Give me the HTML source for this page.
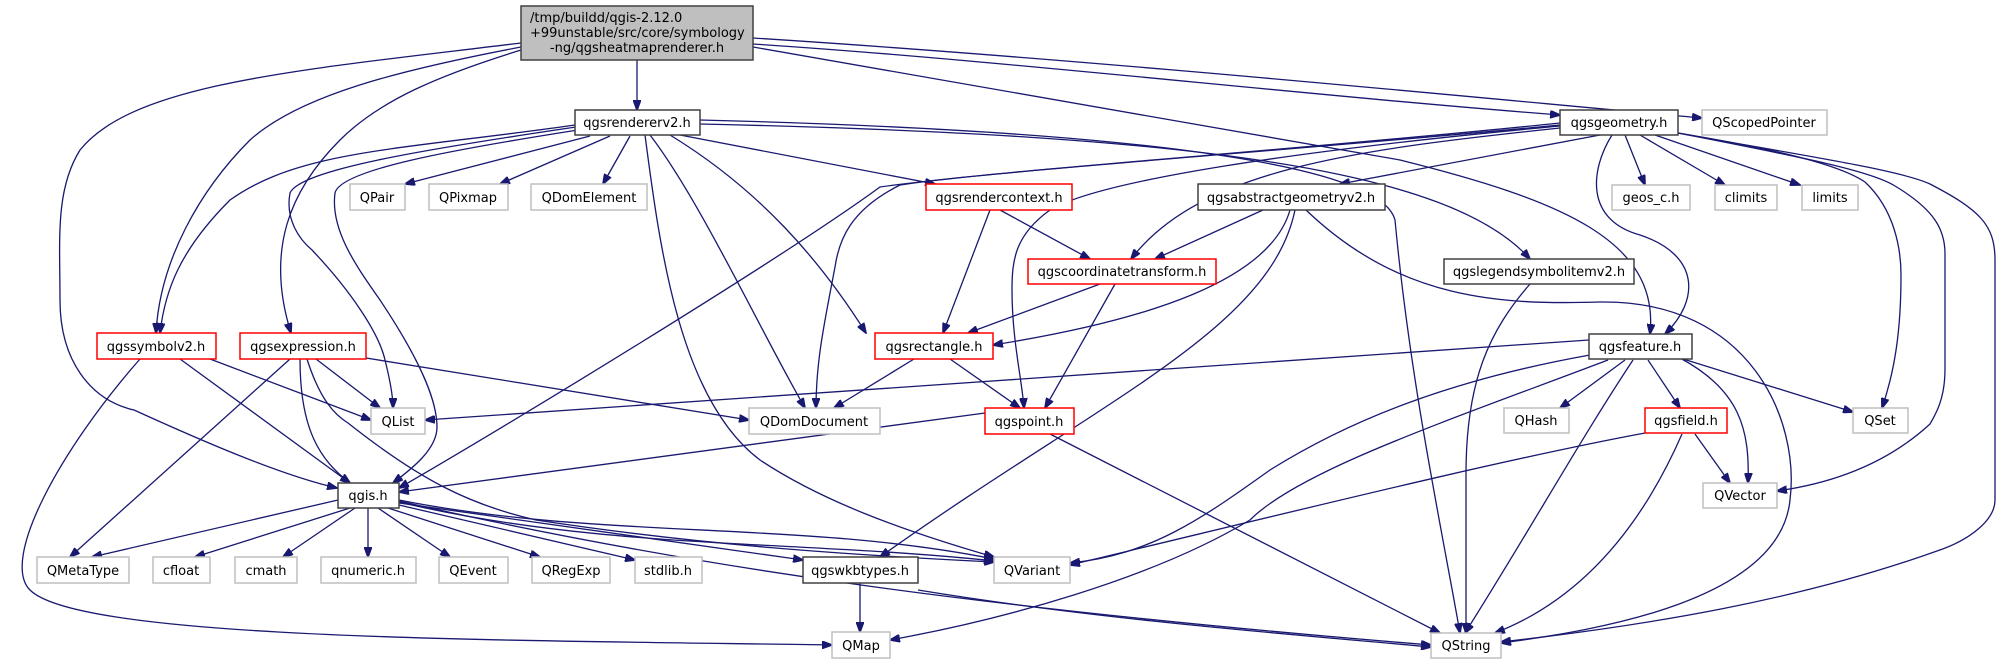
<!DOCTYPE html>
<html><head><meta charset="utf-8"><style>
html,body{margin:0;padding:0;background:#fff;}
svg{display:block;}
text{font-family:"DejaVu Sans","Liberation Sans",sans-serif;font-size:13px;fill:#000;}
.e{fill:none;stroke:#191970;stroke-width:1.3;marker-end:url(#a);}
.n{fill:#fff;stroke:#404040;stroke-width:1.5;}
.g{fill:#fff;stroke:#bfbfbf;stroke-width:1.5;}
.r{fill:#fff;stroke:#ff0000;stroke-width:1.5;}
</style></head><body>
<svg width="2002" height="664" viewBox="0 0 2002 664" xmlns="http://www.w3.org/2000/svg">
<defs><marker id="a" markerWidth="11" markerHeight="8" refX="10" refY="4" orient="auto" markerUnits="userSpaceOnUse"><path d="M0,0 L11,4 L0,8 z" fill="#191970" stroke="#191970"/></marker></defs>
<g>
<path class="e" d="M637,60 L637,110"/>
<path class="e" d="M753,44 C1000,60 1300,95 1560,115"/>
<path class="e" d="M753,38 C1100,60 1500,100 1702,118"/>
<path class="e" d="M753,47 L1400,160 C1560,200 1660,240 1650,334"/>
<path class="e" d="M521,47 C400,70 300,95 250,140 C200,190 160,260 156,333"/>
<path class="e" d="M575,125 C400,150 300,150 230,200 C180,250 165,290 160,333"/>
<path class="e" d="M521,50 C440,75 380,100 340,140 C290,190 265,250 291,333"/>
<path class="e" d="M521,43 C300,70 134,83 80,150 C55,190 60,240 60,300 C60,360 90,400 134,410 C200,440 280,475 337,488"/>
<path class="e" d="M590,136 L405,184"/>
<path class="e" d="M610,136 L500,184"/>
<path class="e" d="M630,136 L603,184"/>
<path class="e" d="M680,135 L935,184"/>
<path class="e" d="M670,135 C760,190 820,260 866,333"/>
<path class="e" d="M650,135 C700,200 760,330 805,408"/>
<path class="e" d="M645,135 C660,250 680,400 760,460 C820,500 900,530 994,557"/>
<path class="e" d="M578,130 C450,150 340,170 335,193 C330,230 357,267 380,300 C420,360 437,400 437,427 C437,450 410,470 393,483"/>
<path class="e" d="M576,127 C420,150 300,170 290,193 C285,220 300,240 312,250 C350,290 379,333 385,360 C390,380 393,395 393,408"/>
<path class="e" d="M700,120 C1100,130 1380,160 1395,220 C1410,380 1440,520 1460,633"/>
<path class="e" d="M700,124 C1200,135 1450,170 1530,259"/>
<path class="e" d="M1560,125 C1300,150 1000,170 880,187 C780,260 500,430 399,488"/>
<path class="e" d="M1560,123 C1300,150 1000,170 900,185 C850,210 839,240 835,267 C825,320 816,360 816,408"/>
<path class="e" d="M1560,126 C1300,150 1100,180 1050,210 C1015,235 1012,260 1012,290 C1012,340 1022,380 1024,408"/>
<path class="e" d="M1560,128 C1350,150 1200,170 1131,259"/>
<path class="e" d="M1600,135 L1340,184"/>
<path class="e" d="M1612,135 C1590,170 1585,220 1640,235 C1700,255 1700,300 1665,334"/>
<path class="e" d="M1625,135 L1645,185"/>
<path class="e" d="M1640,135 L1725,185"/>
<path class="e" d="M1655,135 L1800,185"/>
<path class="e" d="M1678,133 C1780,150 1840,165 1865,182 C1895,210 1901,250 1901,275 C1901,330 1895,370 1882,408"/>
<path class="e" d="M1678,133 C1790,155 1870,170 1895,186 C1935,210 1945,230 1945,254 L1945,369 C1945,400 1935,415 1930,424 C1880,470 1820,485 1777,491"/>
<path class="e" d="M1678,133 C1800,155 1900,170 1930,184 C1980,210 1995,225 1995,260 L1995,500 C1995,520 1970,540 1937,551 C1800,600 1650,625 1501,642"/>
<path class="e" d="M1263,210 L1155,259"/>
<path class="e" d="M1290,210 C1270,280 1150,320 993,345"/>
<path class="e" d="M1295,210 C1270,330 1100,400 880,557"/>
<path class="e" d="M1306,210 C1400,300 1500,305 1600,302 C1750,300 1800,420 1790,500 C1780,600 1600,630 1501,643"/>
<path class="e" d="M1000,210 L1090,259"/>
<path class="e" d="M990,210 L943,333"/>
<path class="e" d="M1100,284 L968,333"/>
<path class="e" d="M1115,284 L1045,408"/>
<path class="e" d="M1530,284 C1490,330 1465,380 1466,480 L1466,633"/>
<path class="e" d="M914,359 L834,408"/>
<path class="e" d="M950,359 L1020,408"/>
<path class="e" d="M210,359 L371,420"/>
<path class="e" d="M180,359 L350,483"/>
<path class="e" d="M140,359 C60,450 0,560 30,590 C80,640 500,640 832,645"/>
<path class="e" d="M316,359 L380,408"/>
<path class="e" d="M300,359 C300,430 320,460 350,483"/>
<path class="e" d="M307,359 C320,400 335,415 348,423 C420,480 470,505 536,520 C700,545 850,555 994,562"/>
<path class="e" d="M366,358 L749,420"/>
<path class="e" d="M290,359 L70,557"/>
<path class="e" d="M338,500 L92,557"/>
<path class="e" d="M350,508 L195,557"/>
<path class="e" d="M355,508 L283,557"/>
<path class="e" d="M368,508 L368,557"/>
<path class="e" d="M378,508 L450,557"/>
<path class="e" d="M388,508 L540,557"/>
<path class="e" d="M399,505 L635,560"/>
<path class="e" d="M399,503 L803,560"/>
<path class="e" d="M399,500 C600,540 800,520 994,559"/>
<path class="e" d="M399,502 C600,550 800,540 994,561"/>
<path class="e" d="M399,501 C700,570 1000,610 1431,645"/>
<path class="e" d="M985,413 L399,492"/>
<path class="e" d="M1050,434 L1440,633"/>
<path class="e" d="M1589,340 L425,420"/>
<path class="e" d="M1590,355 C1450,380 1350,420 1270,470 C1200,520 1150,555 1070,563"/>
<path class="e" d="M1608,360 C1450,420 1300,470 1250,520 C1150,580 1000,620 890,640"/>
<path class="e" d="M1625,360 L1560,408"/>
<path class="e" d="M1648,360 L1680,408"/>
<path class="e" d="M1680,358 C1740,390 1750,430 1748,483"/>
<path class="e" d="M1680,358 L1853,412"/>
<path class="e" d="M1633,360 C1580,440 1530,530 1465,633"/>
<path class="e" d="M1645,433 C1500,460 1300,510 1070,565"/>
<path class="e" d="M1695,434 L1730,483"/>
<path class="e" d="M1682,434 C1640,530 1580,600 1495,633"/>
<path class="e" d="M860,583 L860,632"/>
<path class="e" d="M918,590 C1100,620 1300,635 1431,647"/>
</g>
<g>
<rect x="521" y="6" width="232" height="54" fill="#bfbfbf" stroke="#404040" stroke-width="1.5"/>
<text x="530" y="22">/tmp/buildd/qgis-2.12.0</text>
<text x="530" y="37">+99unstable/src/core/symbology</text>
<text x="637" y="52" text-anchor="middle">-ng/qgsheatmaprenderer.h</text>
</g>
<g text-anchor="middle">
<rect class="n" x="575" y="110" width="125" height="25"/><text x="637" y="127">qgsrendererv2.h</text>
<rect class="n" x="1560" y="110" width="118" height="25"/><text x="1619" y="127">qgsgeometry.h</text>
<rect class="g" x="1702" y="110" width="125" height="25"/><text x="1764" y="127">QScopedPointer</text>
<rect class="g" x="350" y="184" width="55" height="26"/><text x="377" y="202">QPair</text>
<rect class="g" x="429" y="184" width="79" height="26"/><text x="468" y="202">QPixmap</text>
<rect class="g" x="531" y="184" width="116" height="26"/><text x="589" y="202">QDomElement</text>
<rect class="r" x="926" y="184" width="146" height="26"/><text x="999" y="202">qgsrendercontext.h</text>
<rect class="n" x="1198" y="184" width="187" height="26"/><text x="1291" y="202">qgsabstractgeometryv2.h</text>
<rect class="g" x="1612" y="185" width="78" height="25"/><text x="1651" y="202">geos_c.h</text>
<rect class="g" x="1715" y="185" width="62" height="25"/><text x="1746" y="202">climits</text>
<rect class="g" x="1802" y="185" width="56" height="25"/><text x="1830" y="202">limits</text>
<rect class="r" x="1028" y="259" width="188" height="25"/><text x="1122" y="276">qgscoordinatetransform.h</text>
<rect class="n" x="1444" y="259" width="190" height="25"/><text x="1539" y="276">qgslegendsymbolitemv2.h</text>
<rect class="r" x="97" y="333" width="119" height="26"/><text x="156" y="351">qgssymbolv2.h</text>
<rect class="r" x="240" y="333" width="126" height="26"/><text x="303" y="351">qgsexpression.h</text>
<rect class="r" x="875" y="333" width="118" height="26"/><text x="934" y="351">qgsrectangle.h</text>
<rect class="n" x="1589" y="334" width="103" height="25"/><text x="1640" y="351">qgsfeature.h</text>
<rect class="g" x="371" y="408" width="54" height="26"/><text x="398" y="426">QList</text>
<rect class="g" x="749" y="408" width="131" height="26"/><text x="814" y="426">QDomDocument</text>
<rect class="r" x="985" y="408" width="89" height="26"/><text x="1029" y="426">qgspoint.h</text>
<rect class="g" x="1504" y="408" width="65" height="25"/><text x="1536" y="425">QHash</text>
<rect class="r" x="1645" y="408" width="82" height="25"/><text x="1686" y="425">qgsfield.h</text>
<rect class="g" x="1853" y="408" width="55" height="25"/><text x="1880" y="425">QSet</text>
<rect class="n" x="338" y="483" width="61" height="25"/><text x="368" y="500">qgis.h</text>
<rect class="g" x="1703" y="483" width="74" height="25"/><text x="1740" y="500">QVector</text>
<rect class="g" x="37" y="557" width="92" height="26"/><text x="83" y="575">QMetaType</text>
<rect class="g" x="153" y="557" width="57" height="26"/><text x="181" y="575">cfloat</text>
<rect class="g" x="235" y="557" width="62" height="26"/><text x="266" y="575">cmath</text>
<rect class="g" x="321" y="557" width="95" height="26"/><text x="368" y="575">qnumeric.h</text>
<rect class="g" x="439" y="557" width="69" height="26"/><text x="473" y="575">QEvent</text>
<rect class="g" x="532" y="557" width="78" height="26"/><text x="571" y="575">QRegExp</text>
<rect class="g" x="635" y="557" width="67" height="26"/><text x="668" y="575">stdlib.h</text>
<rect class="n" x="803" y="557" width="115" height="26"/><text x="860" y="575">qgswkbtypes.h</text>
<rect class="g" x="994" y="557" width="76" height="26"/><text x="1032" y="575">QVariant</text>
<rect class="g" x="832" y="632" width="58" height="26"/><text x="861" y="650">QMap</text>
<rect class="g" x="1431" y="633" width="70" height="25"/><text x="1466" y="650">QString</text>
</g>
</svg>
</body></html>
